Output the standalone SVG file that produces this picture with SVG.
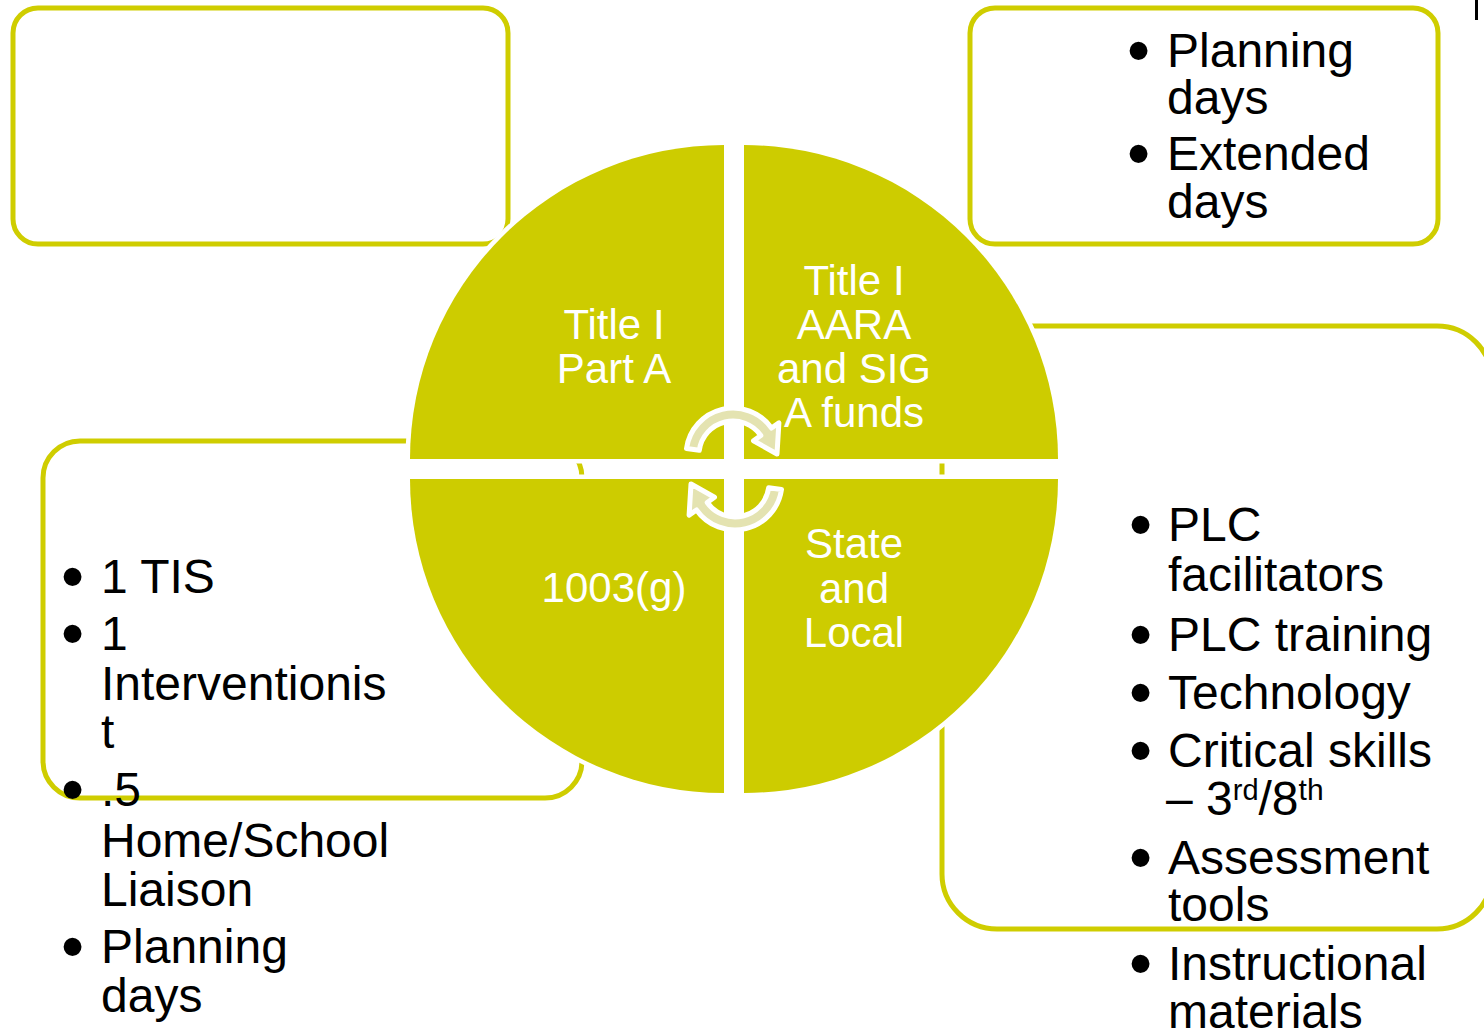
<svg xmlns="http://www.w3.org/2000/svg" width="1484" height="1031" viewBox="0 0 1484 1031">
<style>
.box{fill:#fff;stroke:#CFCD00;stroke-width:5}
.q{fill:#CDCC00;stroke:#fff;stroke-width:9;paint-order:stroke}
.qt{font-family:"Liberation Sans",Arial,sans-serif;font-size:42px;fill:#fff;text-anchor:middle}
.bt{font-family:"Liberation Sans",Arial,sans-serif;font-size:48px;fill:#000}
.bl{font-family:"Liberation Sans",Arial,sans-serif;font-size:66px;fill:#000}
.arr{fill:#E4E3B1;stroke:#fff;stroke-width:5;stroke-linejoin:round}
</style>
<rect width="1484" height="1031" fill="#fff"/>
<g id="box-tl"><rect class="box" x="13" y="8" width="495" height="236" rx="25"/></g>
<g id="box-tr"><rect class="box" x="970" y="8" width="468" height="236" rx="25"/></g>
<g id="box-ml"><rect class="box" x="43" y="441" width="539" height="357" rx="37"/></g>
<g id="box-r"><rect class="box" x="942" y="326" width="550" height="603" rx="55"/></g>

<g id="quad-tl"><path class="q" d="M724,459 L410,459 A314,314 0 0 1 724,145 Z"/>
<text class="qt" x="614" y="339">Title I</text><text class="qt" x="614" y="383">Part A</text></g>
<g id="quad-tr"><path class="q" d="M744,459 L744,145 A314,314 0 0 1 1058,459 Z"/>
<text class="qt" x="854" y="295">Title I</text><text class="qt" x="854" y="339">AARA</text><text class="qt" x="854" y="383">and SIG</text><text class="qt" x="854" y="427">A funds</text></g>
<g id="quad-br"><path class="q" d="M744,479 L1058,479 A314,314 0 0 1 744,793 Z"/>
<text class="qt" x="854" y="558">State</text><text class="qt" x="854" y="603">and</text><text class="qt" x="854" y="647">Local</text></g>
<g id="quad-bl"><path class="q" d="M724,479 L724,793 A314,314 0 0 1 410,479 Z"/>
<text class="qt" x="614" y="602">1003(g)</text></g>

<g id="connectors">
<path class="arr" d="M686.5,448.5 A47,47 0 0 1 771.5,428 L778.9,422.9 L777,454 L753.5,440.7 L760.8,435.5 A34,34 0 0 0 699.3,450.3 Z"/>
<path class="arr" transform="rotate(180 734 469)" d="M686.5,448.5 A47,47 0 0 1 771.5,428 L778.9,422.9 L777,454 L753.5,440.7 L760.8,435.5 A34,34 0 0 0 699.3,450.3 Z"/>
</g>

<g id="text-tr">
<text class="bl" x="1127" y="73">•</text>
<text class="bt" x="1167" y="67">Planning</text>
<text class="bt" x="1167" y="114">days</text>
<text class="bl" x="1127" y="176">•</text>
<text class="bt" x="1167" y="170">Extended</text>
<text class="bt" x="1167" y="218">days</text>
</g>

<g id="text-ml">
<text class="bl" x="61" y="599">•</text>
<text class="bt" x="101" y="593">1 TIS</text>
<text class="bl" x="61" y="656">•</text>
<text class="bt" x="101" y="650">1</text>
<text class="bt" x="101" y="700">Interventionis</text>
<text class="bt" x="101" y="748">t</text>
<text class="bl" x="61" y="812">•</text>
<text class="bt" x="101" y="806">.5</text>
<text class="bt" x="101" y="857">Home/School</text>
<text class="bt" x="101" y="906">Liaison</text>
<text class="bl" x="61" y="969">•</text>
<text class="bt" x="101" y="963">Planning</text>
<text class="bt" x="101" y="1012">days</text>
</g>

<g id="text-r">
<text class="bl" x="1129" y="547">•</text>
<text class="bt" x="1168" y="541">PLC</text>
<text class="bt" x="1168" y="591">facilitators</text>
<text class="bl" x="1129" y="657">•</text>
<text class="bt" x="1168" y="651">PLC training</text>
<text class="bl" x="1129" y="715">•</text>
<text class="bt" x="1168" y="709">Technology</text>
<text class="bl" x="1129" y="773">•</text>
<text class="bt" x="1168" y="767">Critical skills</text>
<text class="bt" x="1166" y="815">– 3<tspan font-size="29" dy="-15">rd</tspan><tspan dy="15">/8</tspan><tspan font-size="30" dy="-15">th</tspan></text>
<text class="bl" x="1129" y="880">•</text>
<text class="bt" x="1168" y="874">Assessment</text>
<text class="bt" x="1168" y="921">tools</text>
<text class="bl" x="1129" y="986">•</text>
<text class="bt" x="1168" y="980">Instructional</text>
<text class="bt" x="1168" y="1028">materials</text>
</g>
<rect x="1475" y="0" width="3" height="20" fill="#000"/>
</svg>
